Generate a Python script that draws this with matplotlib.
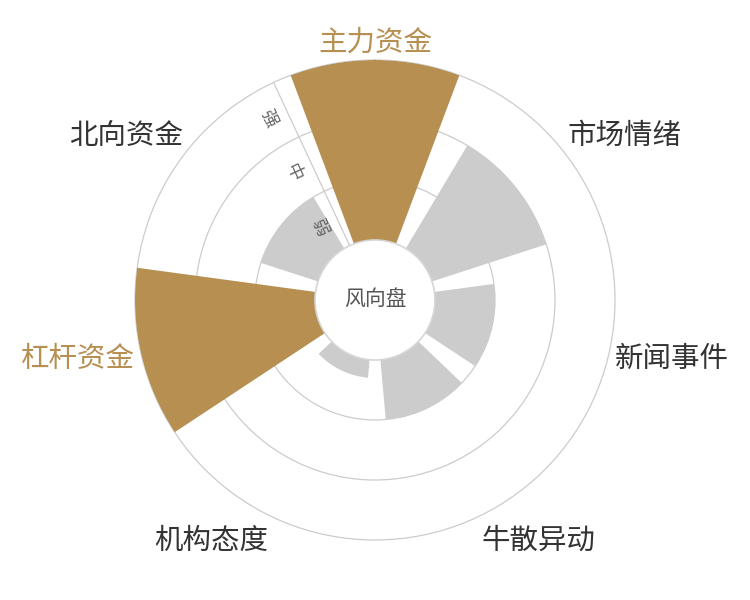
import numpy as np
import matplotlib.pyplot as plt
from matplotlib.patches import Circle

plt.rcParams['font.family'] = ['Noto Sans CJK SC', 'DejaVu Sans']

categories = ['主力资金', '市场情绪', '新闻事件', '牛散异动', '机构态度', '杠杆资金', '北向资金']
strength = [3, 2, 1, 1, 0.3, 3, 1]
highlight = ['主力资金', '杠杆资金']
levels = ['弱', '中', '强']
center_label = '风向盘'

gold = '#b68f51'
grey = '#cccccc'
line_col = '#cccccc'

fig = plt.figure(figsize=(7.5, 6), dpi=100)
ax = fig.add_axes([0.18, 0.1, 0.64, 0.8], projection='polar')
ax.set_theta_zero_location('N')
ax.set_theta_direction(-1)

n = len(categories)
step = 2 * np.pi / n
theta = np.arange(n) * step
colors = [gold if c in highlight else grey for c in categories]

# bars start at the edge of the centre disc (r=1)
ax.bar(theta, strength, width=step * 0.8, bottom=1, color=colors,
       linewidth=0, zorder=2)

ax.set_ylim(0, 4)
ax.set_yticks([2, 3])
ax.set_yticklabels([])
ax.set_xticks([])
ax.grid(True, axis='y', color=line_col, lw=0.9)
ax.set_axisbelow(True)
ax.spines['polar'].set_color(line_col)
ax.spines['polar'].set_linewidth(0.9)
ax.spines['polar'].set_zorder(0.6)

# radius axis with level names
th_axis = np.deg2rad(335)
ax.plot([th_axis, th_axis], [1, 4], color=line_col, lw=0.9, zorder=1)
for i, lv in enumerate(levels):
    ax.annotate(lv, xy=(th_axis, i + 1.5), xytext=(-13, -6),
                textcoords='offset points', rotation=-65, rotation_mode='anchor',
                ha='center', va='center', fontsize=12.5, color='#666666')

# centre disc
ax.add_patch(Circle((0.5, 0.5), 0.125, transform=ax.transAxes,
                    facecolor='white', edgecolor='#d6d6d6', lw=1.2, zorder=3))
ax.text(0.5, 0.5, center_label, transform=ax.transAxes, ha='center',
        va='center', fontsize=15, color='#555555', zorder=4)

# category labels around the outside
for th, cat in zip(theta, categories):
    s, c = np.sin(th), np.cos(th)
    ha = 'center' if abs(s) < 0.3 else ('left' if s > 0 else 'right')
    va = 'center' if abs(c) < 0.3 else ('bottom' if c > 0 else 'top')
    ax.annotate(cat, xy=(th, 4.1), xytext=(0, -3), textcoords='offset points',
                ha=ha, va=va, fontsize=20.5,
                color=gold if cat in highlight else '#333333', annotation_clip=False)

plt.savefig('out.png')
